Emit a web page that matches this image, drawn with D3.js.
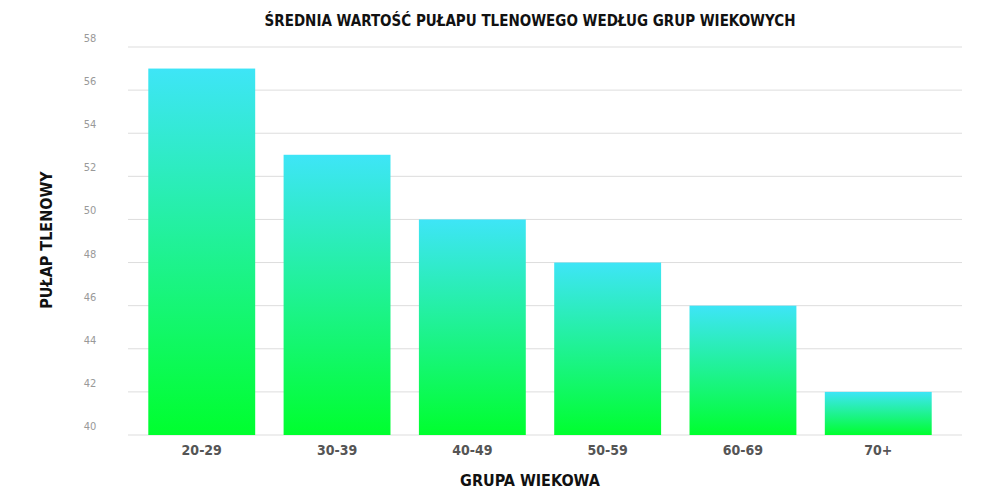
<!DOCTYPE html>
<html><head><meta charset="utf-8">
<script src="https://cdn.jsdelivr.net/npm/d3@7"></script>
<style>body{margin:0;background:#fff}</style></head>
<body><svg id="c" width="1000" height="500"></svg>
<script>
const categories = ["20-29","30-39","40-49","50-59","60-69","70+"];
const values = [57, 53, 50, 48, 46, 42];
const yTicks = [40,42,44,46,48,50,52,54,56,58];
const title = "ŚREDNIA WARTOŚĆ PUŁAPU TLENOWEGO WEDŁUG GRUP WIEKOWYCH";
const xTitle = "GRUPA WIEKOWA";
const yTitle = "PUŁAP TLENOWY";

const svg = d3.select("#c");
const font = "'DejaVu Sans Condensed','DejaVu Sans',sans-serif";
const x = d3.scaleBand().domain(categories).range([128, 952]).paddingInner(0.21).paddingOuter(0.15);
const y = d3.scaleLinear().domain([40, 58]).range([435, 47]);

const defs = svg.append("defs");
const g = defs.append("linearGradient").attr("id","grad").attr("x1",0).attr("y1",0).attr("x2",0).attr("y2",1);
g.append("stop").attr("offset","0%").attr("stop-color","#3ee5f7");
g.append("stop").attr("offset","100%").attr("stop-color","#00ff2e");

// grid
svg.append("g").selectAll("line").data(yTicks).join("line")
  .attr("x1",128).attr("x2",962).attr("y1",d=>y(d)).attr("y2",d=>y(d))
  .attr("stroke","#dddddd").attr("stroke-width",1);
svg.append("g").selectAll("text").data(yTicks).join("text")
  .attr("x",90).attr("y",d=>y(d)-5).attr("text-anchor","middle")
  .attr("font-family",font).attr("font-size",11).attr("fill","#999").text(d=>d);

svg.append("g").selectAll("rect").data(values).join("rect")
  .attr("x",(d,i)=>x(categories[i])).attr("width",x.bandwidth())
  .attr("y",d=>y(d)).attr("height",d=>y(40)-y(d)).attr("fill","url(#grad)");

const xa = svg.append("g").attr("transform","translate(0,435)").call(d3.axisBottom(x).tickSize(0).tickPadding(10));
xa.select(".domain").remove();
xa.selectAll("text").attr("font-family",font).attr("font-size",14).attr("font-weight","bold").attr("fill","#555");

svg.append("text").attr("x",530).attr("y",26).attr("text-anchor","middle")
  .attr("font-family",font).attr("font-size",15).attr("font-weight","bold").attr("fill","#111").text(title);
svg.append("text").attr("x",530).attr("y",486).attr("text-anchor","middle")
  .attr("font-family",font).attr("font-size",16).attr("font-weight","bold").attr("fill","#111").text(xTitle);
svg.append("text").attr("transform","translate(52,240) rotate(-90)").attr("text-anchor","middle")
  .attr("font-family",font).attr("font-size",16).attr("font-weight","bold").attr("fill","#111").text(yTitle);
</script></body></html>
